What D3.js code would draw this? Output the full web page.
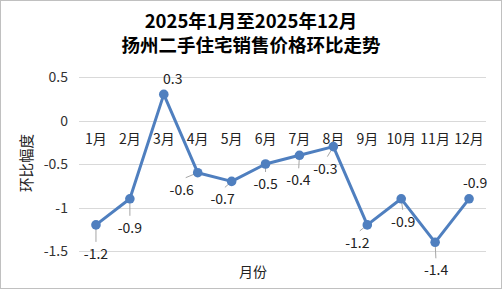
<!DOCTYPE html>
<html><head><meta charset="utf-8">
<script src="https://cdn.jsdelivr.net/npm/d3@7"></script>
<style>body{margin:0;background:#fff}svg{display:block}</style>
</head><body>
<script>
const categories = ["1月","2月","3月","4月","5月","6月","7月","8月","9月","10月","11月","12月"];
const values = [-1.2,-0.9,0.3,-0.6,-0.7,-0.5,-0.4,-0.3,-1.2,-0.9,-1.4,-0.9];
const yTicks = [0.5,0,-0.5,-1,-1.5];
const titleLines = ["2025年1月至2025年12月","扬州二手住宅销售价格环比走势"];
// label offsets (dx, dy) relative to point
const labelOffsets = [[0,29],[0,29],[9,-15],[-16,17],[-9,18],[0,20],[-1,25],[-8,22],[-10,18],[2,23],[1,28],[6,-16]];

const W=502,H=290;
const font = "'Microsoft YaHei','Noto Sans CJK SC','Noto Sans',sans-serif";
const svg=d3.select("body").append("svg").attr("width",W).attr("height",H);
svg.append("rect").attr("x",0.5).attr("y",0.5).attr("width",W-1).attr("height",H-2).attr("fill","#fff").attr("stroke","#c0c0c0");

const x=d3.scaleBand().domain(categories).range([79,486]);
const y=d3.scaleLinear().domain([-1.5,0.5]).range([251,77]);

svg.append("g").selectAll("text").data(titleLines).join("text")
  .attr("x",251).attr("y",(d,i)=>28+i*24).attr("text-anchor","middle")
  .attr("font-family",font).attr("font-weight","bold").attr("font-size",18.5).attr("fill","#000").text(d=>d);

// grid
svg.append("g").selectAll("line").data(yTicks).join("line")
  .attr("x1",79).attr("x2",486).attr("y1",d=>Math.round(y(d))+0.5).attr("y2",d=>Math.round(y(d))+0.5)
  .attr("stroke","#d9d9d9").attr("stroke-width",1);

// y tick labels
svg.append("g").selectAll("text").data(yTicks).join("text")
  .attr("x",68).attr("y",d=>y(d)+5).attr("text-anchor","end")
  .attr("font-family",font).attr("font-size",14).attr("fill","#333").text(d=>d);

// category labels along zero line
svg.append("g").selectAll("text").data(categories).join("text")
  .attr("x",d=>x(d)+x.bandwidth()/2).attr("y",144).attr("text-anchor","middle")
  .attr("font-family",font).attr("font-size",14).attr("fill","#222").text(d=>d);

// axis titles
svg.append("text").attr("transform","translate(32,163) rotate(-90)").attr("text-anchor","middle")
  .attr("font-family",font).attr("font-size",14.5).attr("fill","#222").text("环比幅度");
svg.append("text").attr("x",253).attr("y",277).attr("text-anchor","middle")
  .attr("font-family",font).attr("font-size",14).attr("fill","#222").text("月份");

const cx=i=>x(categories[i])+x.bandwidth()/2;
const data=values.map((v,i)=>({v,i}));

// leader lines
svg.append("g").selectAll("line").data(data).join("line")
  .attr("x1",d=>cx(d.i)).attr("y1",d=>y(d.v))
  .attr("x2",d=>cx(d.i)+labelOffsets[d.i][0]*0.75).attr("y2",d=>y(d.v)+(labelOffsets[d.i][1]>0?labelOffsets[d.i][1]-12:labelOffsets[d.i][1]+6))
  .attr("stroke",d=>labelOffsets[d.i][1]>0?"#a6a6a6":"none").attr("stroke-width",1);

const line=d3.line().x(d=>cx(d.i)).y(d=>y(d.v));
svg.append("path").datum(data).attr("d",line).attr("fill","none").attr("stroke","#4f7fbf").attr("stroke-width",3).attr("stroke-linejoin","round");
svg.append("g").selectAll("circle").data(data).join("circle")
  .attr("cx",d=>cx(d.i)).attr("cy",d=>y(d.v)).attr("r",4.8).attr("fill","#4f7fbf");

svg.append("g").selectAll("text").data(data).join("text")
  .attr("x",d=>cx(d.i)+labelOffsets[d.i][0]).attr("y",d=>y(d.v)+labelOffsets[d.i][1]+5)
  .attr("text-anchor","middle").attr("font-family",font).attr("font-size",14).attr("fill","#222")
  .text(d=>d.v);
</script>
</body></html>
